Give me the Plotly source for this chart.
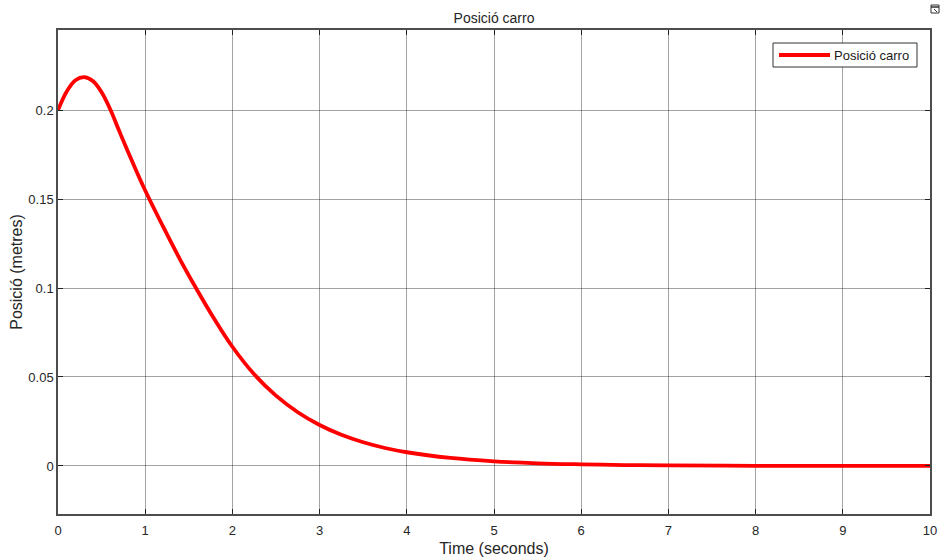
import plotly.graph_objects as go

# Cart position response (seconds, metres)
time_s = [0.0, 0.1, 0.2, 0.3, 0.4, 0.5, 0.6, 0.7, 0.8, 0.9, 1.0, 1.2, 1.4,
          1.6, 1.8, 2.0, 2.25, 2.5, 2.75, 3.0, 3.25, 3.5, 3.75, 4.0, 4.5, 5.0,
          5.5, 6.0, 6.5, 7.0, 8.0, 9.0, 10.0]
position_m = [0.2, 0.2105, 0.2168, 0.2185, 0.2163, 0.2100, 0.2003, 0.1885,
              0.1768, 0.1656, 0.1548, 0.1350, 0.1160, 0.0985, 0.0820, 0.0670,
              0.0515, 0.0395, 0.0302, 0.0230, 0.0175, 0.0133, 0.0101, 0.0077,
              0.0045, 0.0026, 0.0015, 0.0009, 0.0005, 0.0003, 0.0001, 0.00003,
              0.0]

series_name = "Posició carro"
chart_title = "Posició carro"
x_title = "Time (seconds)"
y_title = "Posició (metres)"

x_ticks = [0, 1, 2, 3, 4, 5, 6, 7, 8, 9, 10]
y_ticks = [0, 0.05, 0.1, 0.15, 0.2]
y_tick_text = ["0", "0.05", "0.1", "0.15", "0.2"]

FONT = "Liberation Sans, Arial, sans-serif"
TEXT = "#262626"
GRID = "rgba(0,0,0,0.36)"
AXIS = "#4d4d4d"

fig = go.Figure()
fig.add_trace(go.Scatter(
    x=time_s, y=position_m, mode="lines", name=series_name,
    line=dict(color="#ff0000", width=3.8, shape="spline", smoothing=1.0),
    showlegend=False,
))

axis_common = dict(
    automargin=False,
    showgrid=True, gridcolor=GRID, gridwidth=1,
    zeroline=False, showline=True, linecolor=AXIS, linewidth=1.5,
    mirror="ticks", ticks="inside", ticklen=5, tickwidth=1.2, tickcolor="#222",
    tickfont=dict(family=FONT, size=13, color=TEXT),
)

fig.update_xaxes(range=[0, 10], tickvals=x_ticks, ticklabelstandoff=4,
                 title=dict(text=x_title, font=dict(family=FONT, size=16, color=TEXT), standoff=5),
                 **axis_common)
fig.update_yaxes(range=[-0.027, 0.245], tickvals=y_ticks, ticktext=y_tick_text,
                 title=dict(text=y_title, font=dict(family=FONT, size=16, color=TEXT), standoff=2),
                 **axis_common)

# Legend box drawn in paper coordinates (plot area 872 x 484 px)
pw, ph = 872.0, 484.0
bx0, bx1 = (773 - 58) / pw, (917 - 58) / pw
by0, by1 = (514 - 67) / ph, (514 - 43) / ph
ly = (by0 + by1) / 2
shapes = [
    dict(type="rect", xref="paper", yref="paper", x0=bx0, x1=bx1, y0=by0, y1=by1,
         line=dict(color="#333333", width=1), fillcolor="white", layer="above"),
    dict(type="line", xref="paper", yref="paper", x0=(779 - 58) / pw, x1=(830 - 58) / pw,
         y0=ly, y1=ly, line=dict(color="#ff0000", width=3.8), layer="above"),
    # small window icon in the top-right corner
    dict(type="rect", xref="paper", yref="paper", x0=(931 - 58) / pw, x1=(939 - 58) / pw,
         y0=(514 - 13) / ph, y1=(514 - 5) / ph, line=dict(color="#333", width=1),
         fillcolor="white", layer="above"),
    dict(type="line", xref="paper", yref="paper", x0=(931 - 58) / pw, x1=(939 - 58) / pw,
         y0=(514 - 7) / ph, y1=(514 - 7) / ph, line=dict(color="#333", width=1.5)),
    dict(type="line", xref="paper", yref="paper", x0=(934 - 58) / pw, x1=(937 - 58) / pw,
         y0=(514 - 9) / ph, y1=(514 - 12) / ph, line=dict(color="#333", width=1)),
]

annotations = [
    dict(text=series_name, xref="paper", yref="paper", x=(832 - 58) / pw, y=ly,
         xanchor="left", yanchor="middle", showarrow=False,
         font=dict(family=FONT, size=13, color="#1a1a1a")),
]

fig.update_layout(
    width=941, height=557,
    margin=dict(l=58, r=11, t=30, b=43, pad=0, autoexpand=False),
    paper_bgcolor="white", plot_bgcolor="white",
    title=dict(text=chart_title, x=0.525, xanchor="center", y=1 - 18 / 557, yanchor="middle",
               font=dict(family=FONT, size=14, color=TEXT)),
    shapes=shapes, annotations=annotations,
    showlegend=False,
)

fig.write_html("out.html")
